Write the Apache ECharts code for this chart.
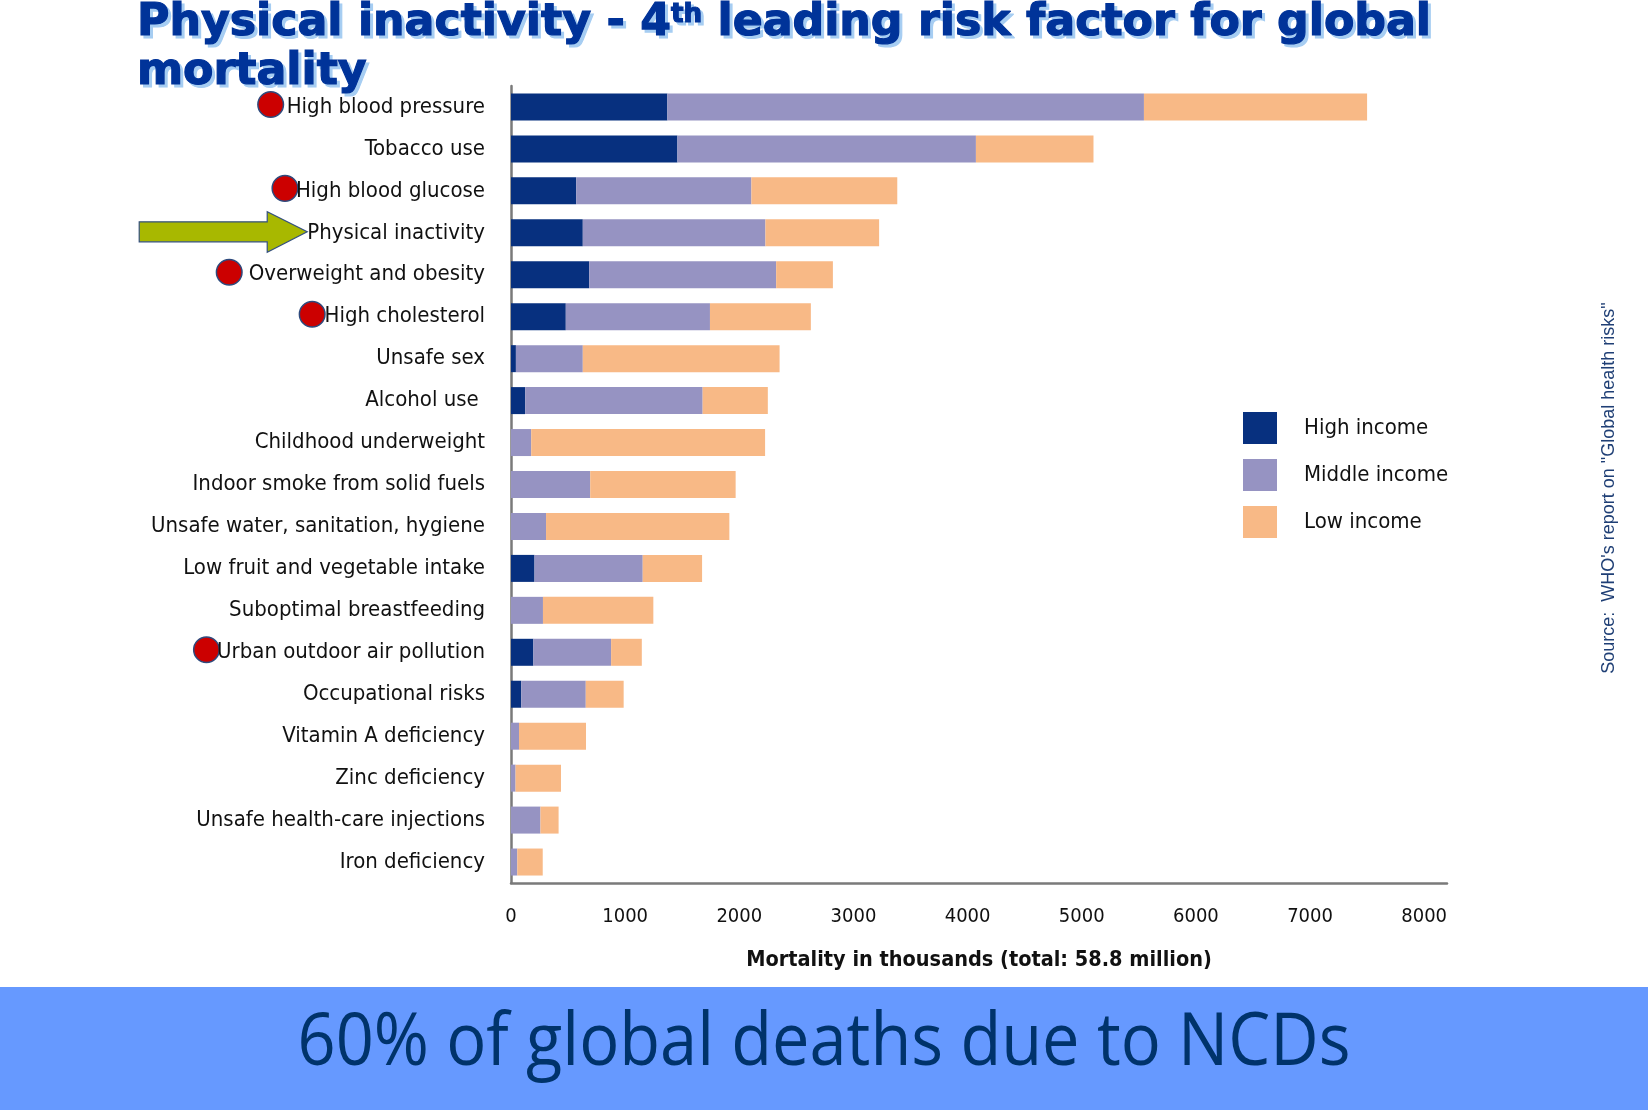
<!DOCTYPE html>
<html><head><meta charset="utf-8">
<script src="https://cdn.jsdelivr.net/npm/echarts@6/dist/echarts.min.js"></script>
<style>html,body{margin:0;padding:0;background:#fff}#c{width:1648px;height:1110px}</style>
</head><body><div id="c"></div>
<script>
const categories = ['High blood pressure','Tobacco use','High blood glucose','Physical inactivity','Overweight and obesity','High cholesterol','Unsafe sex','Alcohol use ','Childhood underweight','Indoor smoke from solid fuels','Unsafe water, sanitation, hygiene','Low fruit and vegetable intake','Suboptimal breastfeeding','Urban outdoor air pollution','Occupational risks','Vitamin A deficiency','Zinc deficiency','Unsafe health-care injections','Iron deficiency'];
const highIncome   = [1370,1458,571,629,685,480,43,125,0,0,0,206,0,196,90,0,0,0,0];
const middleIncome = [4175,2615,1535,1600,1638,1263,586,1554,177,694,307,948,280,681,565,70,40,258,55];
const lowIncome    = [1955,1030,1278,996,497,884,1724,571,2049,1274,1606,520,967,269,332,587,398,159,223];
const seriesNames = ['High income','Middle income','Low income'];
const xMin = 0, xMax = 8200, xStep = 1000;
const titleLine1a = 'Physical inactivity - 4', titleSup = 'th', titleLine1b = ' leading risk factor for global', titleLine2 = 'mortality';
const axisTitle = 'Mortality in thousands (total: 58.8 million)';
const bannerText = '60% of global deaths due to NCDs';
const sourceText = 'Source:  WHO\'s report on "Global health risks"';
// annotated rows: [category index, dot offset from label start]
const dotRows = [[0,-16],[2,-11],[4,-19.5],[5,-12.3],[13,-10.6]];
const arrowRow = 3;

const NARROW = "'DejaVu Sans Condensed','DejaVu Sans',sans-serif";
const LABEL_SIZE = 22;
const colors = ['#07307f','#9693c2','#f8b986'];

const cv = document.createElement('canvas').getContext('2d');
function tw(font, t){ cv.font = font; return cv.measureText(t).width; }
const TF = '"DejaVu Sans"';
const T1 = 44, TS = 26;
const wA = tw('bold ' + T1 + 'px ' + TF, titleLine1a), wS = tw('bold ' + TS + 'px ' + TF, titleSup), wB = tw('bold ' + T1 + 'px ' + TF, titleLine1b);
const tScale = 1294 / (wA + wS + wB);
const bannerFont = '74px "Open Sans"';
const bScale = 1053 / tw(bannerFont, bannerText);

const gridLeft = 511, gridTop = 86, gridH = 797, labelMargin = 26;
const labelRight = gridLeft - labelMargin;
const band = gridH / categories.length;
const rowY = i => gridTop + band * (i + 0.5);
const labelLeft = i => labelRight - tw(LABEL_SIZE + 'px ' + NARROW, categories[i]);

function titleGroup(color, dx, dy){
  const st = (txt, size) => ({text: txt, fill: color, stroke: color, lineWidth: 1.2, font: 'bold ' + size + 'px ' + TF, align:'left', textAlign:'left', verticalAlign:'middle', textVerticalAlign:'middle'});
  return {type:'group', x: 137 + dx, y: dy, scaleX: tScale, children: [
    {type:'text', x:0, y:24, style: st(titleLine1a, T1)},
    {type:'text', x:wA, y:15.5, style: st(titleSup, TS)},
    {type:'text', x:wA + wS, y:24, style: st(titleLine1b, T1)},
    {type:'text', x:0, y:73, style: st(titleLine2, T1)}
  ]};
}
const tipX = labelLeft(arrowRow), tipY = rowY(arrowRow) - 1;
const arrowPts = [[tipX-168,tipY-10],[tipX-40,tipY-10],[tipX-40,tipY-20],[tipX,tipY],[tipX-40,tipY+20.5],[tipX-40,tipY+10],[tipX-168,tipY+10]];

const chart = echarts.init(document.getElementById('c'), null, {renderer:'canvas'});
chart.setOption({
  animation: false,
  backgroundColor: '#ffffff',
  grid: {left: gridLeft, top: gridTop, width: 936, height: gridH, containLabel: false},
  legend: {
    data: seriesNames, orient: 'vertical', left: 1243, top: 412, padding: 0,
    itemWidth: 34, itemHeight: 32, itemGap: 15, icon: 'rect', selectedMode: false,
    textStyle: {fontFamily: NARROW, fontSize: LABEL_SIZE, color: '#111', padding: [0,0,0,22]}
  },
  xAxis: {
    type: 'value', min: xMin, max: xMax, interval: xStep,
    axisLine: {show: true, lineStyle: {color: '#7a7a7a', width: 2.5}},
    axisTick: {show: false}, splitLine: {show: false},
    axisLabel: {fontFamily: NARROW, fontSize: 20, color: '#111', margin: 24,
      formatter: v => (v % 1000 === 0 ? String(v) : '')},
    name: axisTitle, nameLocation: 'middle', nameGap: 66,
    nameTextStyle: {fontFamily: NARROW, fontSize: 21.5, fontWeight: 'bold', color: '#111'}
  },
  yAxis: {
    type: 'category', data: categories, inverse: true,
    axisLine: {show: true, lineStyle: {color: '#7a7a7a', width: 2.5}},
    axisTick: {show: false},
    axisLabel: {fontFamily: NARROW, fontSize: LABEL_SIZE, color: '#111', margin: labelMargin}
  },
  series: [highIncome, middleIncome, lowIncome].map((d, i) => ({
    name: seriesNames[i], type: 'bar', stack: 'total', data: d, barWidth: 27,
    itemStyle: {color: colors[i]}, emphasis: {disabled: true}
  })),
  graphic: {elements: [
    titleGroup('#a6cdf2', 3, 3),
    titleGroup('#003399', 0, 0),
    {type:'polygon', shape:{points: arrowPts}, style:{fill:'#a8b800', stroke:'#34507e', lineWidth:1.2}},
    ...dotRows.map(d => ({type:'circle', shape:{cx: labelLeft(d[0]) + d[1], cy: rowY(d[0]) - 2.5, r:12.8}, style:{fill:'#cc0000', stroke:'#2e4a7d', lineWidth:1.5}})),
    {type:'text', x:1609, y:488, rotation: Math.PI/2,
      style:{text: sourceText, font: '18px "Liberation Sans", Arial, sans-serif', fill:'#1f3f75', align:'center', textAlign:'center', verticalAlign:'middle', textVerticalAlign:'middle'}},
    {type:'rect', shape:{x:0, y:987, width:1648, height:123}, style:{fill:'#6699ff'}},
    {type:'text', x:824, y:1044, scaleX: bScale,
      style:{text: bannerText, font: bannerFont, fill:'#00336b', align:'center', textAlign:'center', verticalAlign:'middle', textVerticalAlign:'middle'}}
  ]}
});
</script></body></html>
